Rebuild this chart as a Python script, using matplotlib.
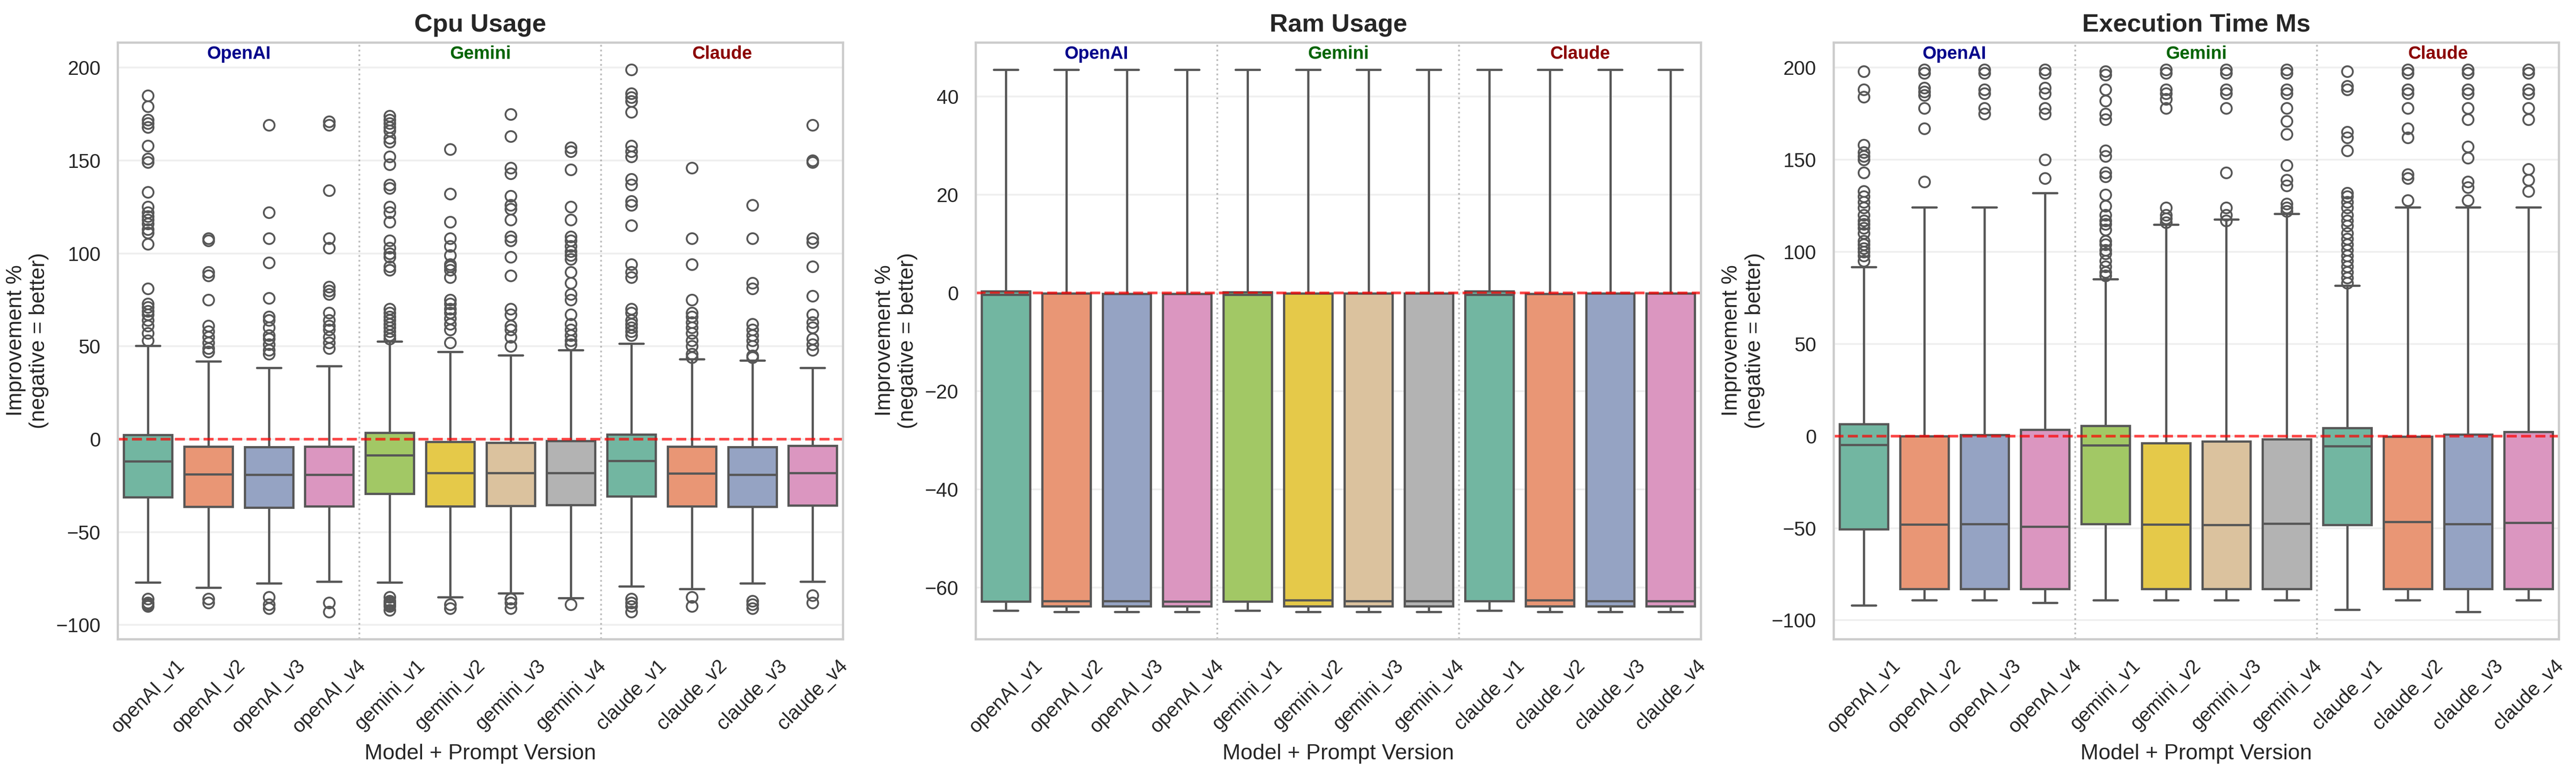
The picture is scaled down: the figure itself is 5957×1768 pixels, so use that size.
import colorsys
import matplotlib
matplotlib.use("Agg")
import matplotlib.pyplot as plt
import matplotlib.colors as mcolors
import matplotlib.transforms as mtransforms
import seaborn as sns

sns.set_theme(style="whitegrid", context="notebook")
plt.rcParams['font.family'] = ['Liberation Sans', 'DejaVu Sans']

labels = ['openAI_v1', 'openAI_v2', 'openAI_v3', 'openAI_v4',
          'gemini_v1', 'gemini_v2', 'gemini_v3', 'gemini_v4',
          'claude_v1', 'claude_v2', 'claude_v3', 'claude_v4']
groups = ['OpenAI', 'Gemini', 'Claude']
group_colors = ['darkblue', 'darkgreen', 'darkred']
titles = ['Cpu Usage', 'Ram Usage', 'Execution Time Ms']

# cpu usage box stats
cpu_q1 = [-31.1, -36.3, -36.7, -36.0, -29.4, -36.0, -35.9, -35.4, -30.7, -36.0, -36.3, -35.6]
cpu_med = [-11.8, -18.8, -19.1, -19.1, -8.6, -18.2, -18.1, -18.1, -11.6, -18.5, -19.1, -18.1]
cpu_q3 = [2.4, -3.9, -4.3, -4.0, 3.4, -1.4, -1.9, -0.9, 2.6, -3.9, -4.2, -3.4]
cpu_lo = [-77.2, -79.9, -77.5, -76.6, -77.2, -85.1, -82.9, -85.5, -79.1, -80.5, -77.5, -76.6]
cpu_hi = [50.3, 42.0, 38.5, 39.3, 52.7, 47.1, 45.3, 47.9, 51.5, 43.0, 42.5, 38.5]
cpu_fliers = [
    [185, 179, 172, 170, 168, 158, 151, 149, 133, 125, 122, 120, 118, 116, 113, 111, 105,
     81, 73, 71, 69, 67, 64, 61, 57, 53, -86, -88, -89, -90],
    [108, 107, 90, 88, 75, 61, 58, 55, 52, 49, 47, -86, -88],
    [169, 122, 108, 95, 76, 66, 64, 60, 56, 54, 51, 48, 46, -85, -89, -91],
    [171, 169, 134, 108, 103, 82, 80, 78, 68, 64, 61, 59, 55, 52, 49, -88, -93],
    [174, 172, 170, 168, 166, 162, 160, 152, 148, 137, 135, 125, 122, 117, 107, 103, 100, 98,
     93, 91, 70, 68, 66, 64, 62, 60, 58, 56, 54, -85, -87, -88, -89, -90, -92],
    [156, 132, 117, 108, 104, 99, 94, 93, 91, 87, 75, 73, 70, 68, 65, 62, 59, 52, -89, -91],
    [175, 163, 146, 143, 131, 126, 124, 118, 109, 107, 98, 88, 70, 67, 61, 59, 55, 50, -86, -88, -91],
    [157, 155, 145, 125, 118, 109, 107, 104, 101, 99, 97, 90, 84, 78, 75, 67, 62, 59, 56, 53, 51, -89],
    [199, 186, 184, 182, 176, 158, 155, 152, 140, 137, 128, 126, 115, 94, 90, 87, 70, 68, 64,
     62, 60, 58, 56, -86, -88, -90, -93],
    [146, 108, 94, 75, 68, 66, 63, 60, 57, 53, 50, 46, 44, -85, -90],
    [126, 108, 84, 81, 62, 59, 56, 53, 50, 45, 44, -87, -89, -91],
    [169, 150, 149, 108, 106, 93, 77, 67, 63, 60, 54, 51, 48, -84, -88],
]

# ram usage box stats
ram_q1 = [-62.9, -63.8, -63.8, -63.8, -62.9, -63.8, -63.8, -63.8, -62.8, -63.8, -63.8, -63.8]
ram_med = [-0.4, -62.8, -62.8, -62.9, -0.4, -62.6, -62.8, -62.8, -0.4, -62.6, -62.8, -62.8]
ram_q3 = [0.3, -0.1, -0.2, -0.2, 0.2, -0.1, -0.1, -0.1, 0.3, -0.2, -0.1, -0.1]
ram_lo = [-64.7, -65.0, -65.0, -65.0, -64.7, -65.0, -65.0, -65.0, -64.7, -65.0, -65.0, -65.0]
ram_hi = [45.5, 45.5, 45.5, 45.5, 45.5, 45.5, 45.5, 45.5, 45.5, 45.5, 45.5, 45.5]
ram_fliers = [[] for _ in labels]

# execution time box stats
exec_q1 = [-50.6, -83.0, -83.0, -83.0, -47.8, -83.0, -83.0, -83.0, -48.1, -83.0, -83.0, -83.0]
exec_med = [-4.7, -47.9, -47.8, -49.2, -4.9, -47.9, -48.1, -47.5, -5.5, -46.6, -47.8, -47.1]
exec_q3 = [6.5, 0.0, 0.7, 3.5, 5.5, -3.9, -2.9, -1.6, 4.5, -0.3, 0.9, 2.4]
exec_lo = [-91.9, -89.1, -89.1, -90.5, -89.1, -89.1, -89.1, -89.1, -94.2, -89.1, -95.5, -89.1]
exec_hi = [91.8, 124.2, 124.2, 132.0, 85.3, 114.9, 117.7, 120.8, 81.8, 124.2, 124.2, 124.2]
exec_fliers = [
    [198, 188, 184, 158, 154, 152, 150, 143, 133, 130, 127, 124, 120, 117, 115, 113, 110,
     106, 104, 102, 100, 98, 95],
    [199, 197, 189, 187, 185, 178, 167, 138],
    [199, 197, 188, 186, 178, 175],
    [199, 197, 189, 186, 178, 175, 150, 140],
    [198, 196, 188, 182, 175, 172, 155, 152, 143, 141, 131, 125, 120, 117, 115, 112, 106,
     104, 101, 99, 95, 92, 89, 87],
    [199, 197, 188, 186, 183, 178, 124, 120, 118, 116],
    [199, 197, 188, 186, 178, 143, 124, 120, 117],
    [199, 197, 188, 186, 178, 171, 164, 147, 139, 136, 126, 124, 122],
    [198, 190, 188, 165, 162, 155, 132, 130, 127, 124, 120, 117, 114, 110, 107, 104, 101,
     98, 95, 92, 89, 86, 83],
    [199, 197, 188, 186, 178, 167, 162, 142, 140, 128],
    [199, 197, 188, 186, 178, 172, 157, 151, 138, 135, 128],
    [199, 197, 188, 186, 178, 172, 145, 139, 133],
]

metrics = [
    (cpu_q1, cpu_med, cpu_q3, cpu_lo, cpu_hi, cpu_fliers),
    (ram_q1, ram_med, ram_q3, ram_lo, ram_hi, ram_fliers),
    (exec_q1, exec_med, exec_q3, exec_lo, exec_hi, exec_fliers),
]


def desaturate(c, prop):
    r, g, b = mcolors.to_rgb(c)
    h, l, s = colorsys.rgb_to_hls(r, g, b)
    return colorsys.hls_to_rgb(h, l, s * prop)


base = sns.color_palette("Set2", 8)
box_colors = [desaturate(base[i % 8], 0.75) for i in range(len(labels))]
line_col = '#575757'

fig, axes = plt.subplots(1, 3, figsize=(5957 / 300, 1768 / 300), dpi=300)
fig.subplots_adjust(left=0.0457, right=0.9933, top=0.9446, bottom=0.1646, wspace=0.183)

for ax, title, (q1, med, q3, lo, hi, fl) in zip(axes, titles, metrics):
    stats = []
    for i in range(len(labels)):
        stats.append({'q1': q1[i], 'med': med[i], 'q3': q3[i],
                      'whislo': lo[i], 'whishi': hi[i], 'fliers': fl[i]})
    bp = ax.bxp(stats, positions=list(range(len(labels))), widths=0.8, capwidths=0.4,
                patch_artist=True, showfliers=True,
                boxprops=dict(edgecolor=line_col, linewidth=1.25),
                medianprops=dict(color=line_col, linewidth=1.25),
                whiskerprops=dict(color=line_col, linewidth=1.25),
                capprops=dict(color=line_col, linewidth=1.25),
                flierprops=dict(marker='o', markerfacecolor='none', markeredgecolor=line_col,
                                markersize=6, markeredgewidth=1.0))
    for patch, col in zip(bp['boxes'], box_colors):
        patch.set_facecolor(col)
    ax.set_xlim(-0.5, len(labels) - 0.5)
    ax.set_xticks(range(len(labels)))
    ax.set_xticklabels(labels, rotation=45, ha='center', fontsize=11)
    ax.tick_params(axis='y', labelsize=11)
    ax.xaxis.grid(False)
    ax.yaxis.grid(True, alpha=0.3)
    ax.axhline(0, color='red', linestyle='--', linewidth=1.5, alpha=0.7)
    for xv in [3.5, 7.5]:
        ax.axvline(xv, color='gray', linestyle=':', linewidth=1, alpha=0.5)
    trans = mtransforms.blended_transform_factory(ax.transData, ax.transAxes)
    for j, (g, gc) in enumerate(zip(groups, group_colors)):
        ax.text(4 * j + 1.5, 0.995, g, transform=trans, ha='center', va='top',
                fontsize=10, fontweight='bold', color=gc)
    ax.set_title(title, fontsize=14, fontweight='bold')
    ax.set_xlabel('Model + Prompt Version', fontsize=12)
    ax.set_ylabel('Improvement %\n(negative = better)', fontsize=12)

fig.savefig('out.png', dpi=300)
